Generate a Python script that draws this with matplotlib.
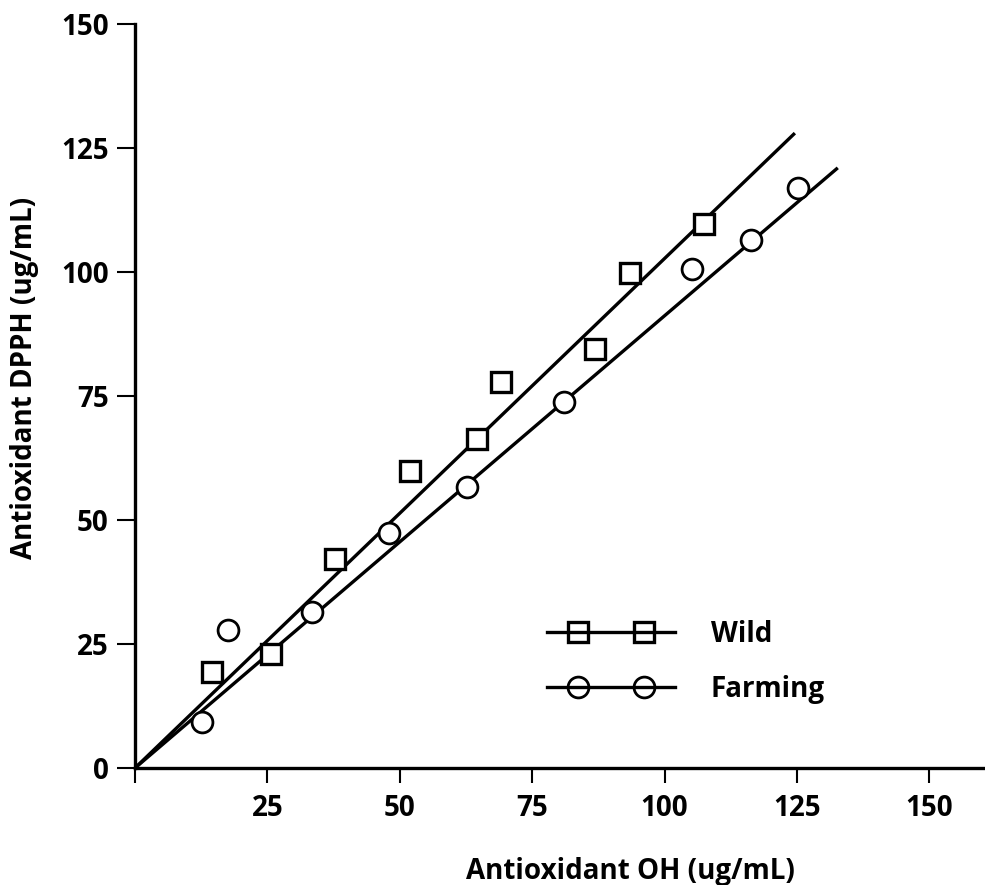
import matplotlib
matplotlib.use("Agg")
import matplotlib.pyplot as plt
from matplotlib.lines import Line2D
from matplotlib.legend_handler import HandlerLine2D, HandlerTuple

# data
wild_x = [14.6, 25.7, 37.8, 51.9, 64.6, 69.1, 86.9, 93.5, 107.4]
wild_y = [19.4, 23.0, 42.1, 59.9, 66.3, 77.8, 84.5, 99.8, 109.7]
farm_x = [12.6, 17.6, 33.4, 48.0, 62.7, 81.0, 105.2, 116.3, 125.2]
farm_y = [9.3, 27.8, 31.5, 47.4, 56.7, 73.8, 100.6, 106.5, 116.9]

# fitted lines (end points)
wild_fit_x = [0, 124.6]
wild_fit_y = [0, 128.0]
farm_fit_x = [0, 132.7]
farm_fit_y = [0, 121.0]

x_ticks = [0, 25, 50, 75, 100, 125, 150]
x_tick_labels = ['', '25', '50', '75', '100', '125', '150']
y_ticks = [0, 25, 50, 75, 100, 125, 150]

plt.rcParams['font.family'] = ['Open Sans', 'DejaVu Sans']
plt.rcParams['font.weight'] = 'bold'

fig = plt.figure(figsize=(9.85, 8.85), dpi=100)
ax = fig.add_axes([135 / 985, 117 / 885, 850 / 985, 744 / 885])

lw = 2.4
ax.plot(wild_fit_x, wild_fit_y, color='black', lw=lw, solid_capstyle='butt')
ax.plot(farm_fit_x, farm_fit_y, color='black', lw=lw, solid_capstyle='butt')
ax.plot(wild_x, wild_y, linestyle='none', marker='s', ms=15, mfc='white',
        mec='black', mew=2.4, zorder=3)
ax.plot(farm_x, farm_y, linestyle='none', marker='o', ms=15, mfc='white',
        mec='black', mew=2.0, zorder=3)

# legend handles: a full-width line with two markers on top
line_w = Line2D([], [], color='black', lw=lw)
line_f = Line2D([], [], color='black', lw=lw)
mk_w = Line2D([], [], linestyle='none', marker='s', ms=15, mfc='none',
              mec='black', mew=2.4)
mk_f = Line2D([], [], linestyle='none', marker='o', ms=15, mfc='none',
              mec='black', mew=2.0)
ax.legend([(line_w, mk_w), (line_f, mk_f)], ['Wild', 'Farming'],
          frameon=False, numpoints=2,
          loc='center left', bbox_to_anchor=(412 / 850, 0.1425),
          borderpad=0, borderaxespad=0, prop={'size': 20, 'weight': 'bold'},
          handlelength=4.6, handletextpad=1.3, labelspacing=0.95,
          handler_map={tuple: HandlerTuple(ndivide=1),
                       line_w: HandlerLine2D(marker_pad=0),
                       line_f: HandlerLine2D(marker_pad=0),
                       mk_w: HandlerLine2D(marker_pad=1.1),
                       mk_f: HandlerLine2D(marker_pad=1.1)})

ax.set_xlim(0, 160.5)
ax.set_ylim(0, 150)
ax.set_xticks(x_ticks)
ax.set_xticklabels(x_tick_labels)
ax.set_yticks(y_ticks)

for s in ['top', 'right']:
    ax.spines[s].set_visible(False)
for s in ['left', 'bottom']:
    ax.spines[s].set_linewidth(2.4)

ax.tick_params(axis='x', direction='out', length=11, width=1.5, pad=8, labelsize=20)
ax.tick_params(axis='y', direction='out', length=13, width=1.5, pad=6, labelsize=20)

ax.set_xlabel('Antioxidant OH (ug/mL)', fontsize=20, fontweight='bold')
ax.set_ylabel('Antioxidant DPPH (ug/mL)', fontsize=20, fontweight='bold')
ax.xaxis.set_label_coords(0.5824, -0.1196)
ax.yaxis.set_label_coords(-0.1135, 0.524)

fig.savefig('out.png', dpi=100)
